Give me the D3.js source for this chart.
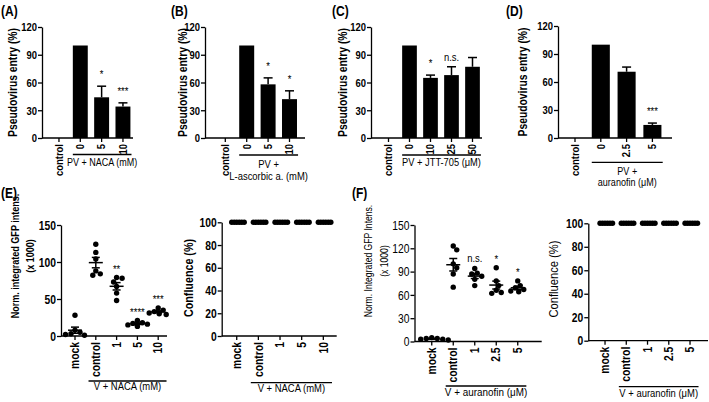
<!DOCTYPE html>
<html><head><meta charset="utf-8">
<script src="https://cdn.jsdelivr.net/npm/d3@7"></script>
<style>html,body{margin:0;padding:0;background:#fff;}svg{display:block;}</style>
</head><body><svg id="c" width="709" height="402"></svg>
<script>
// ---------------- DATA ----------------
const catsA = ["control", "0", "5", "10"];
const meanA = [0, 100, 44, 34];
const semA  = [0, 0, 12, 4];
const sigA  = ["", "", "*", "***"];

const catsB = ["control", "0", "5", "10"];
const meanB = [0, 100, 58, 42];
const semB  = [0, 0, 7, 9];
const sigB  = ["", "", "*", "*"];

const catsC = ["control", "0", "10", "25", "50"];
const meanC = [0, 100, 65, 68, 77];
const semC  = [0, 0, 3, 9, 10];
const sigC  = ["", "", "*", "n.s.", ""];

const catsD = ["control", "0", "2.5", "5"];
const meanD = [0, 100, 71, 14];
const semD  = [0, 0, 5, 2];
const sigD  = ["", "", "", "***"];

const barTicks = [0, 30, 60, 90, 120];

const catsE = ["mock", "control", "1", "5", "10"];
const gfpE = [
  [28, 8, 5, 3, 2, 1],
  [124, 113, 104, 88, 84, 82],
  [79, 78, 73, 67, 58, 48],
  [21, 18, 17, 16, 15, 13],
  [38, 35, 33, 31, 30, 29]
];
const sigE = ["", "", "**", "****", "***"];
const gfpTicksE = [0, 50, 100, 150];
const confE = [
  [100, 100, 100, 100, 100, 100],
  [100, 100, 100, 100, 100, 100],
  [100, 100, 100, 100, 100, 100],
  [100, 100, 100, 100, 100, 100],
  [100, 100, 100, 100, 100, 100]
];

const catsF = ["mock", "control", "1", "2.5", "5"];
const gfpF = [
  [5, 4, 4, 3, 2, 3],
  [123, 118, 100, 95, 87, 70],
  [94, 88, 87, 84, 80, 72],
  [95, 78, 72, 66, 63, 62],
  [78, 72, 69, 67, 65, 64]
];
const sigF = ["", "", "n.s.", "*", "*"];
const gfpTicksF = [0, 30, 60, 90, 120, 150];
const confF = [
  [100, 100, 100, 100, 100, 100],
  [100, 100, 100, 100, 100, 100],
  [100, 100, 100, 100, 100, 100],
  [100, 100, 100, 100, 100, 100],
  [100, 100, 100, 100, 100, 100]
];
const confTicks = [0, 20, 40, 60, 80, 100];

// ---------------- DRAWING ----------------
const FONT = "'Liberation Sans', Arial, Helvetica, sans-serif";
const SX = 0.86;
const SW = 1.3;
const svg = d3.select("#c");
svg.append("rect").attr("width", 709).attr("height", 402).attr("fill", "#fff");

function styleText(sel, size, bold) {
  sel.attr("font-family", FONT).attr("font-size", size)
     .attr("font-weight", bold ? "bold" : "normal").attr("fill", "#000");
}
function label(g, x, y, s, size, bold, rot, anchor) {
  const t = g.append("text")
    .attr("transform", `translate(${x},${y}) rotate(${rot || 0}) scale(${SX},1)`)
    .attr("text-anchor", anchor || "middle").text(s);
  styleText(t, size, bold);
  if (rot) t.attr("dy", "0.35em");
  return t;
}
function yAxis(g, y, ticks, x0, size, bold) {
  const ax = g.append("g").attr("transform", `translate(${x0},0)`)
    .call(d3.axisLeft(y).tickValues(ticks).tickSize(4).tickSizeOuter(0));
  ax.select(".domain").attr("stroke-width", SW);
  ax.selectAll(".tick line").attr("stroke-width", SW);
  const t = ax.selectAll(".tick text").attr("x", null).attr("dy", "0.35em")
    .attr("transform", `translate(-5,0) scale(${SX},1)`);
  styleText(t, size, bold);
}
function xAxis(g, x, y0, x0, x1, size) {
  const ax = g.append("g").attr("transform", `translate(0,${y0})`)
    .call(d3.axisBottom(x).tickSize(4).tickSizeOuter(0));
  ax.select(".domain").remove();
  ax.selectAll(".tick line").attr("stroke-width", SW);
  const t = ax.selectAll(".tick text").attr("y", null).attr("dy", "0.35em")
    .attr("text-anchor", "end")
    .attr("transform", `translate(0,6) rotate(-90) scale(${SX},1)`);
  styleText(t, size, true);
  g.append("line").attr("x1", x0).attr("x2", x1).attr("y1", y0).attr("y2", y0)
    .attr("stroke", "#000").attr("stroke-width", SW);
}
function groupLabel(g, x, cats, lineY, lines, size, offsets) {
  const c0 = x(cats[1]) + x.bandwidth() / 2, c1 = x(cats[cats.length - 1]) + x.bandwidth() / 2;
  const st = x.step();
  const a = c0 - 0.35 * st, b = c1 + 0.4 * st;
  g.append("line").attr("x1", a).attr("x2", b).attr("y1", lineY).attr("y2", lineY)
    .attr("stroke", "#000").attr("stroke-width", SW);
  lines.forEach((s, i) => label(g, (a + b) / 2, lineY + offsets[i], s, size, false));
}

function barPanel(cfg) {
  const g = svg.append("g");
  const n = cfg.cats.length;
  const x = d3.scaleBand().domain(cfg.cats)
    .range([cfg.bandStart, cfg.bandStart + n * cfg.step]).paddingInner(0.3).paddingOuter(0.15);
  const y = d3.scaleLinear().domain([0, 120]).range([cfg.yBottom, cfg.yTop]);
  const rows = cfg.cats.map((c, i) => ({ c, m: cfg.mean[i], e: cfg.sem[i], s: cfg.sig[i] }));
  g.selectAll("rect.bar").data(rows.filter(d => d.m > 0)).join("rect").attr("class", "bar")
    .attr("x", d => x(d.c)).attr("width", x.bandwidth())
    .attr("y", d => y(d.m)).attr("height", d => y(0) - y(d.m)).attr("fill", "#000");
  const eb = rows.filter(d => d.e > 0);
  g.selectAll("line.ev").data(eb).join("line").attr("class", "ev")
    .attr("x1", d => x(d.c) + x.bandwidth() / 2).attr("x2", d => x(d.c) + x.bandwidth() / 2)
    .attr("y1", d => y(d.m)).attr("y2", d => y(d.m + d.e)).attr("stroke", "#000").attr("stroke-width", 1.5);
  g.selectAll("line.ec").data(eb).join("line").attr("class", "ec")
    .attr("x1", d => x(d.c) + x.bandwidth() / 2 - 4.5).attr("x2", d => x(d.c) + x.bandwidth() / 2 + 4.5)
    .attr("y1", d => y(d.m + d.e)).attr("y2", d => y(d.m + d.e)).attr("stroke", "#000").attr("stroke-width", 1.5);
  rows.filter(d => d.s).forEach(d => {
    const off = d.s === "n.s." ? 6 : 8;
    label(g, x(d.c) + x.bandwidth() / 2, y(d.m + d.e) - off, d.s, 11, false);
  });
  yAxis(g, y, barTicks, cfg.axisX, 11, true);
  xAxis(g, x, y(0), cfg.axisX, cfg.axisEnd, 11);
  groupLabel(g, x, cfg.cats, cfg.lineY, cfg.lines, cfg.gsize, cfg.goff);
  label(g, cfg.ylabX, (y(0) + y(120)) / 2, "Pseudovirus entry (%)", 12, true, -90);
  label(g, cfg.tagX, 15.5, cfg.tag, 14, true, 0, "start");
}

function swarm(vals, y, minD) {
  const order = vals.map((v, i) => i).sort((a, b) => vals[b] - vals[a]);
  const placed = [], off = new Array(vals.length);
  for (const i of order) {
    const py = y(vals[i]);
    for (let k = 0; k < 400; k++) {
      const dx = (k === 0 ? 0 : (k % 2 ? 1 : -1) * Math.ceil(k / 2)) * 0.5;
      if (placed.every(p => Math.hypot(p[0] - dx, p[1] - py) >= minD)) {
        placed.push([dx, py]); off[i] = dx; break;
      }
    }
  }
  return off;
}

function scatterPanel(cfg) {
  const g = svg.append("g");
  const n = cfg.cats.length;
  const x = d3.scaleBand().domain(cfg.cats)
    .range([cfg.bandStart, cfg.bandStart + n * cfg.step]).paddingInner(0.3).paddingOuter(0.15);
  const y = d3.scaleLinear().domain([0, cfg.ymax]).range([cfg.yBottom, cfg.yTop]);
  const r = 2.7;
  cfg.cats.forEach((c, i) => {
    const vals = cfg.vals[i];
    const cx = x(c) + x.bandwidth() / 2;
    const off = swarm(vals, y, cfg.minD);
    g.selectAll(null).data(vals).join("circle")
      .attr("cx", (d, j) => cx + off[j]).attr("cy", d => y(d)).attr("r", r).attr("fill", "#000");
    const m = d3.mean(vals), sem = d3.deviation(vals) / Math.sqrt(vals.length);
    g.append("line").attr("x1", cx - 7).attr("x2", cx + 7).attr("y1", y(m)).attr("y2", y(m))
      .attr("stroke", "#000").attr("stroke-width", 1.5);
    if (sem > 0) {
      g.append("line").attr("x1", cx).attr("x2", cx).attr("y1", y(m - sem)).attr("y2", y(m + sem))
        .attr("stroke", "#000").attr("stroke-width", 1.5);
      [m - sem, m + sem].forEach(v => g.append("line").attr("x1", cx - 4).attr("x2", cx + 4)
        .attr("y1", y(v)).attr("y2", y(v)).attr("stroke", "#000").attr("stroke-width", 1.5));
    }
    if (cfg.sig && cfg.sig[i]) {
      const offY = cfg.sig[i] === "n.s." ? 6 : 4.5;
      label(g, cx, y(d3.max(vals)) - offY, cfg.sig[i], 11, false);
    }
  });
  yAxis(g, y, cfg.ticks, cfg.axisX, 12, cfg.tickBold);
  xAxis(g, x, y(0), cfg.axisX, cfg.axisEnd, 12);
  groupLabel(g, x, cfg.cats, cfg.lineY, [cfg.group], cfg.gsize, [cfg.goff]);
  cfg.ylab.forEach((s, k) => label(g, cfg.ylabX[k], cfg.ylabY, s, cfg.ylabSize, cfg.ylabBold, -90));
  if (cfg.tag) label(g, cfg.tagX, 198, cfg.tag, 14, true, 0, "start");
}

// ---- top row ----
barPanel({ cats: catsA, mean: meanA, sem: semA, sig: sigA, bandStart: 48.3, step: 21.33,
  yBottom: 138, yTop: 27, axisX: 42, axisEnd: 133, lineY: 154.5,
  lines: ["PV + NACA (mM)"], gsize: 10.5, goff: [11.3], ylabX: 13, tag: "(A)", tagX: 1 });
barPanel({ cats: catsB, mean: meanB, sem: semB, sig: sigB, bandStart: 214.6, step: 21.4,
  yBottom: 138, yTop: 27, axisX: 205, axisEnd: 305, lineY: 155,
  lines: ["PV +", "L-ascorbic a. (mM)"], gsize: 11, goff: [13, 24.5], ylabX: 183, tag: "(B)", tagX: 171 });
barPanel({ cats: catsC, mean: meanC, sem: semC, sig: sigC, bandStart: 378, step: 21,
  yBottom: 138, yTop: 27, axisX: 371, axisEnd: 482, lineY: 155,
  lines: ["PV + JTT-705 (\u03bcM)"], gsize: 10.8, goff: [11.3], ylabX: 342.5, tag: "(C)", tagX: 332 });
barPanel({ cats: catsD, mean: meanD, sem: semD, sig: sigD, bandStart: 562.1, step: 25.8,
  yBottom: 138, yTop: 26, axisX: 558, axisEnd: 672, lineY: 162.3,
  lines: ["PV +", "auranofin (\u03bcM)"], gsize: 10.5, goff: [13, 24], ylabX: 522.5, tag: "(D)", tagX: 506 });

// ---- bottom row ----
scatterPanel({ cats: catsE, vals: gfpE, sig: sigE, ymax: 150, ticks: gfpTicksE, tickBold: true,
  bandStart: 64.6, step: 20.8, yBottom: 336, yTop: 225, axisX: 61, axisEnd: 167, minD: 5.2,
  lineY: 381, group: "V + NACA (mM)", gsize: 11, goff: 8.5,
  ylab: ["Norm. integrated GFP intens.", "(x 1000)"], ylabX: [15, 30.7], ylabY: 256,
  ylabSize: 10.5, ylabBold: true, tag: "(E)", tagX: 1 });
scatterPanel({ cats: catsE, vals: confE, ymax: 100, ticks: confTicks, tickBold: true,
  bandStart: 225.9, step: 21.65, yBottom: 336, yTop: 222.3, axisX: 221.7, axisEnd: 336.7, minD: 2.4,
  lineY: 382.7, group: "V + NACA (mM)", gsize: 11, goff: 8.8,
  ylab: ["Confluence (%)"], ylabX: [189], ylabY: 278, ylabSize: 12.5, ylabBold: true });
scatterPanel({ cats: catsF, vals: gfpF, sig: sigF, ymax: 150, ticks: gfpTicksF, tickBold: false,
  bandStart: 421, step: 21.5, yBottom: 341.5, yTop: 225, axisX: 414.5, axisEnd: 541.7, minD: 5.2,
  lineY: 386, group: "V + auranofin (\u03bcM)", gsize: 11.5, goff: 9.8,
  ylab: ["Norm. Integrated GFP Intens.", "(x 1000)"], ylabX: [368.3, 384.3], ylabY: 261,
  ylabSize: 10, ylabBold: false, tag: "(F)", tagX: 352 });
scatterPanel({ cats: catsF, vals: confF, ymax: 100, ticks: confTicks, tickBold: true,
  bandStart: 594.4, step: 21.25, yBottom: 340.7, yTop: 223.3, axisX: 588.3, axisEnd: 708, minD: 2.4,
  lineY: 386.7, group: "V + auranofin (\u03bcM)", gsize: 11, goff: 9.8,
  ylab: ["Confluence (%)"], ylabX: [553], ylabY: 279, ylabSize: 13, ylabBold: false });
</script>
</body></html>
